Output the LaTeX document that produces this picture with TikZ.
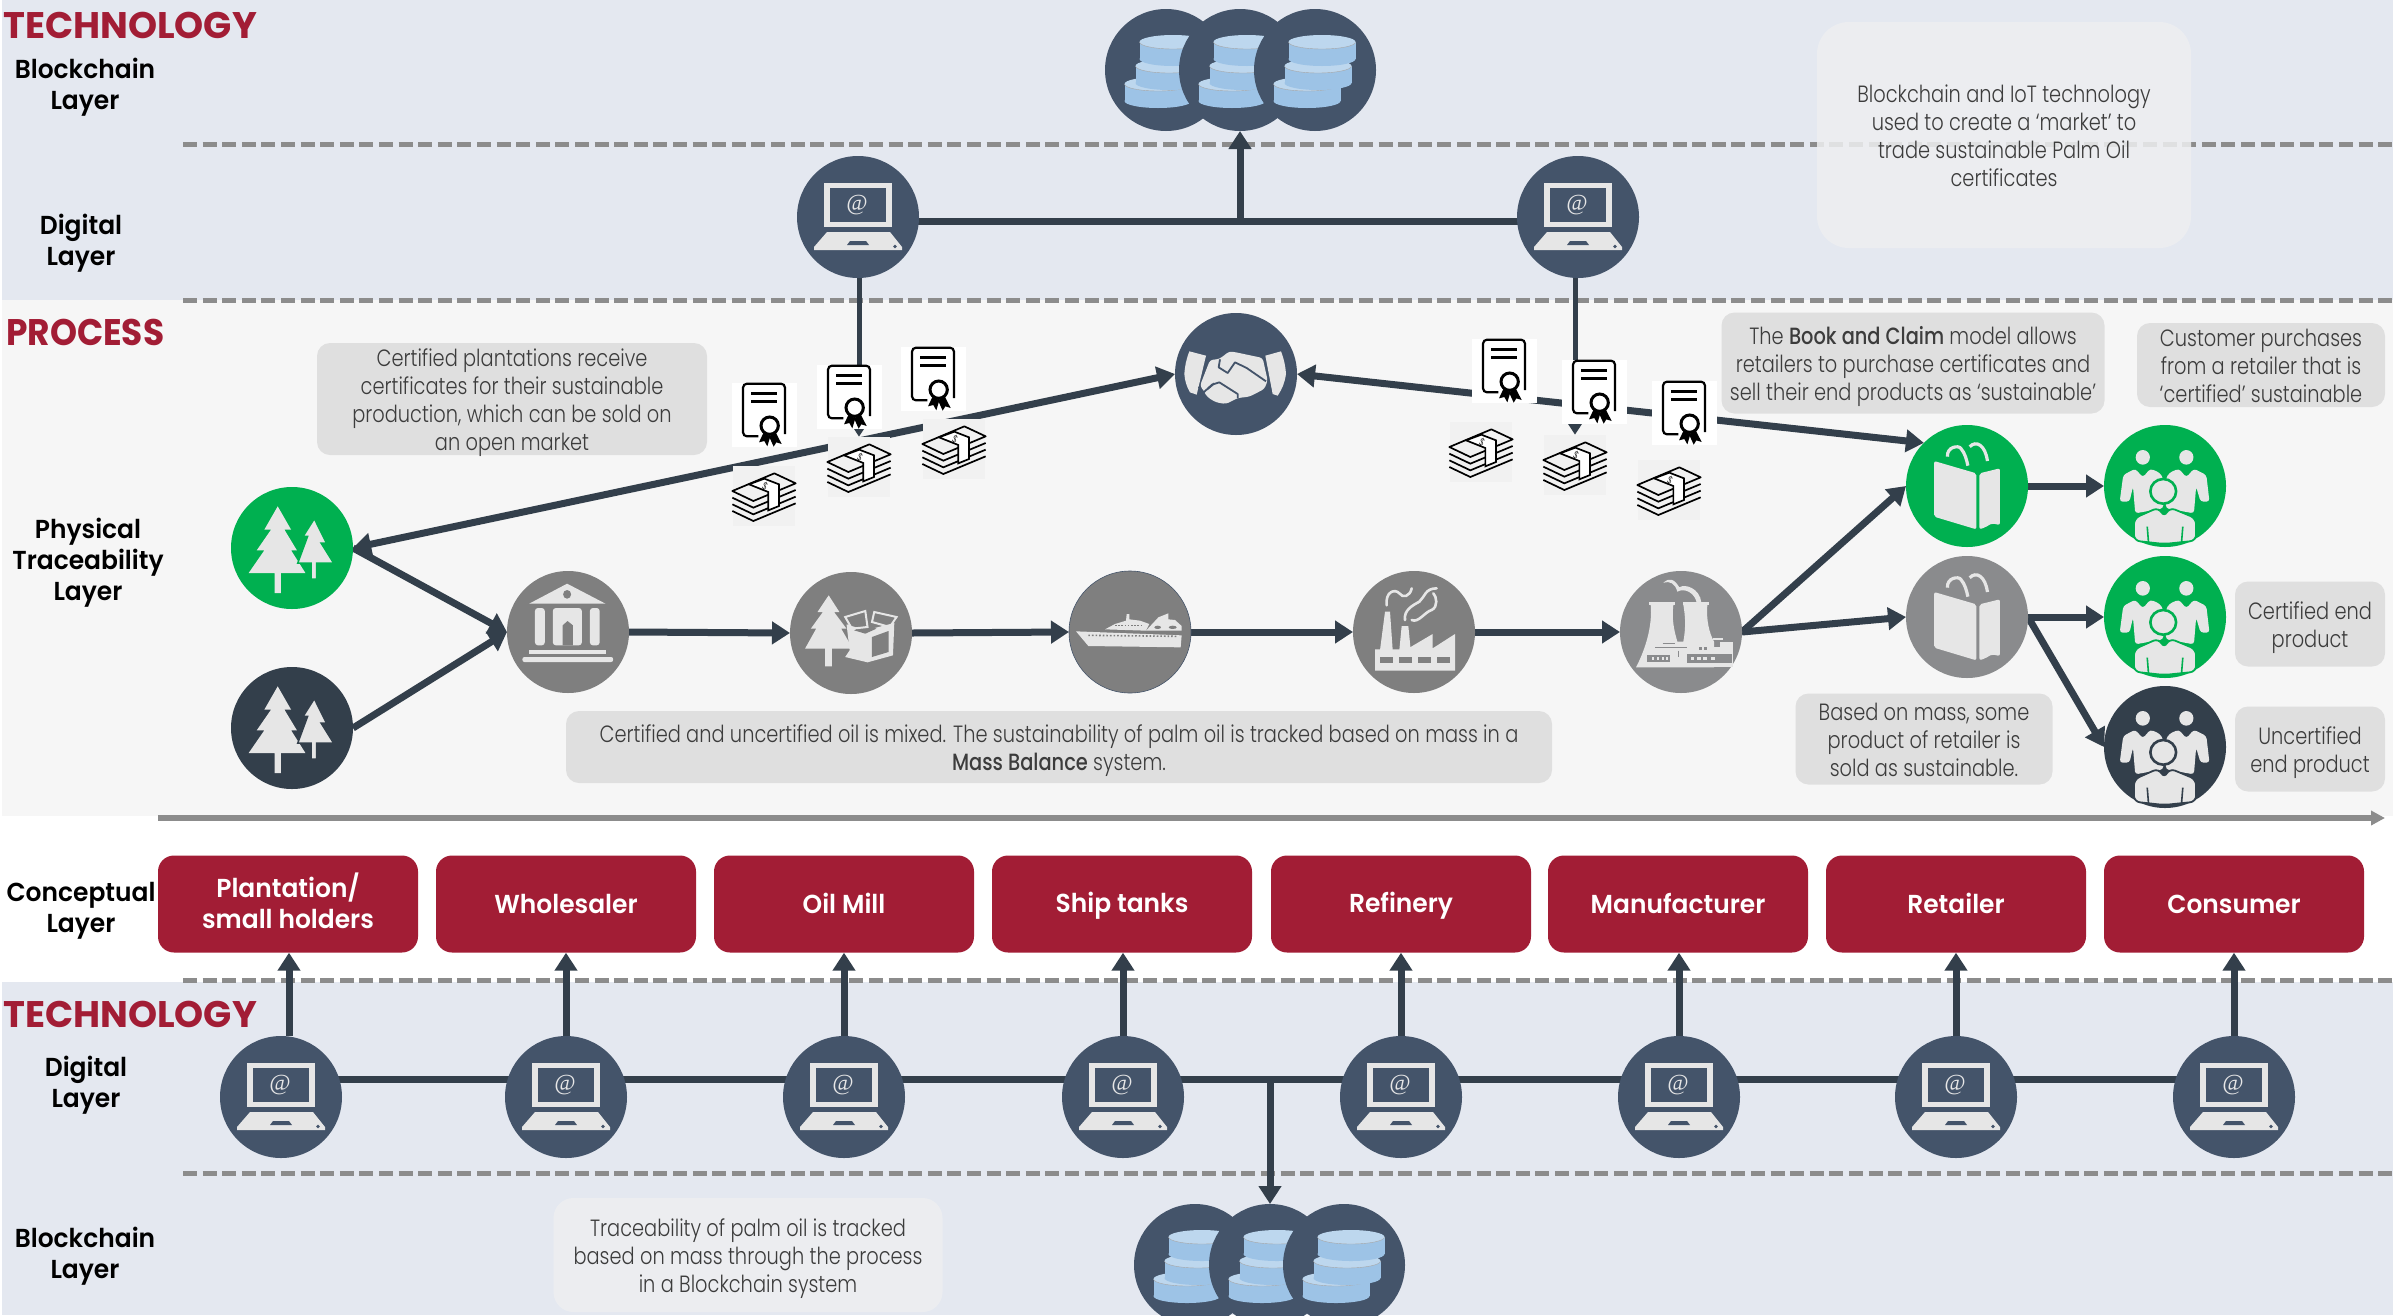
\documentclass[tikz,border=0pt]{standalone}
\usepackage{fontspec}
\usetikzlibrary{arrows.meta,calc}
\setmainfont{Poppins}[FakeStretch=0.825,UprightFont=* Light,BoldFont=* Medium]
\newfontfamily\hdfont{Poppins}[FakeStretch=0.96,UprightFont=* SemiBold]
\newfontfamily\ttlfont{Poppins}[FakeStretch=1.0,UprightFont=* Bold]
\newfontfamily\prcfont{Poppins}[FakeStretch=0.93,UprightFont=* Bold]
\definecolor{navy}{HTML}{44546A}
\definecolor{darkc}{HTML}{333F4B}
\definecolor{greenc}{HTML}{00B050}
\definecolor{greyc}{HTML}{7F7F7F}
\definecolor{greyb}{HTML}{8A8B8D}
\definecolor{redc}{HTML}{A21D35}
\definecolor{ic}{HTML}{E6E6E6}
\definecolor{bandb}{HTML}{E4E8F0}
\definecolor{bandg}{HTML}{F6F6F6}
\definecolor{dashc}{HTML}{8C8C8C}
\definecolor{notec}{HTML}{DFDFDF}
\definecolor{palec}{HTML}{EEEFF1}
\definecolor{notet}{HTML}{3C3C3C}
\definecolor{dbside}{HTML}{9DC3E6}
\definecolor{dbtop}{HTML}{BDD7EE}
\pgfdeclarelayer{bands}\pgfdeclarelayer{lines}
\pgfsetlayers{bands,lines,main}
\tikzset{
  circ/.style={circle,minimum size=122pt,inner sep=0pt,outer sep=0pt,draw=none},
  conn/.style={line width=7pt,draw=darkc,>={Triangle[length=18pt,width=22pt]}},
  sep/.style={line width=5pt,draw=dashc,dash pattern=on 14pt off 5.6pt},
  note/.style={rounded corners=13pt,fill=notec,inner sep=0pt},
  pale/.style={note,fill=palec,fill opacity=.85,rounded corners=#1},
  notetext/.style={text=notet,align=center,inner sep=0pt,font=\fontsize{23.5}{28}\selectfont},
  redbox/.style={rounded corners=16pt,fill=redc,text=white,align=center,minimum width=260pt,minimum height=97pt,inner sep=0pt,font=\hdfont\fontsize{26}{31}\selectfont},
  layerlab/.style={align=center,text=black,inner sep=0pt,font=\hdfont\fontsize{26}{31}\selectfont},
  head/.style={text=redc,inner sep=0pt,anchor=west,font=\ttlfont\fontsize{37}{40}\selectfont},
  certb/.style={fill=white,minimum width=65pt,minimum height=64pt,inner sep=0pt},
  moneyb/.style={fill=black!2!bandg,minimum width=62pt,minimum height=60pt,inner sep=0pt},
}
\newcommand\rs{\rule[-6pt]{0pt}{30pt}}
\newcommand\notebox[7][3.5]{%
  \node[#2,minimum width=#5pt,minimum height=#6pt] (#3) at (#4) {};
  \node[notetext] (#3t) at ([yshift=-#1pt]#3.center) {#7};}
\newcommand\laptopicon[1]{\begin{scope}[shift={(#1)}]
  \fill[ic] (-34,-34) rectangle (34,10);
  \fill[navy] (-28,-29) rectangle (28,5);
  \node[text=ic,inner sep=0pt,font=\fontspec{Liberation Serif}\fontsize{23}{23}\selectfont\itshape] (#1at) at (-1,-12) {@};
  \fill[ic] (-31,15) -- (32,15) -- (44,30) -- (44,33) -- (-44,33) -- (-44,30) -- cycle;
  \fill[navy] (-8,24) -- (8,24) -- (11,28) -- (-11,28) -- cycle;
  \fill[navy] (37,29.5) circle (1.8pt);
\end{scope}}
\newcommand\dbdisc[2]{%
  \fill[dbside] (#1,#2+17) ellipse [x radius=33.5,y radius=7];
  \fill[dbside] (#1-33.5,#2) rectangle (#1+33.5,#2+17);
  \fill[dbtop] (#1,#2) ellipse [x radius=33.5,y radius=7];
  \draw[black!35,line width=.4pt] (#1-33.5,#2) arc [start angle=180,end angle=360,x radius=33.5,y radius=-7];}
\newcommand\dbicon[1]{\begin{scope}[shift={(#1)}]
  \dbdisc{-8}{14}\dbdisc{3}{-4}\dbdisc{7}{-28}
\end{scope}}
\newcommand\treeicon[2]{\begin{scope}[shift={(#1)},xscale=0.4464,yscale=0.3333,shift={(-207,-205)}]
  \fill[ic] (175,80)--(145,150)--(160,150)--(128,212)--(145,212)--(110,280)--(168,280)--(168,340)--(182,340)--(182,280)--(237,280)--(205,212)--(218,212)--(190,150)--(205,150)--cycle;
  \draw[#2,line width=1.5pt,fill=ic] (257,117)--(232,170)--(242,170)--(220,250)--(250,250)--(250,298)--(262,298)--(262,250)--(300,250)--(272,190)--(284,190)--cycle;
\end{scope}}
\newcommand\bankicon[1]{\begin{scope}[shift={(#1)},xscale=0.4464,yscale=0.3333,shift={(-824,-455)}]
  \fill[ic] (737,370)--(822,310)--(908,370)--cycle;
  \fill[greyc] (822,342) ellipse [x radius=9,y radius=13];
  \fill[ic,rounded corners=3pt] (750,383) rectangle (772,495);
  \fill[ic,rounded corners=3pt] (790,383) rectangle (855,495);
  \fill[greyc] (812,495)--(812,435)--(823,422)--(835,435)--(835,495)--cycle;
  \fill[ic,rounded corners=3pt] (873,383) rectangle (895,495);
  \fill[ic] (737,508) rectangle (910,522);
  \fill[ic,rounded corners=2pt] (722,530) rectangle (925,545);
\end{scope}}
\newcommand\boxicon[1]{\begin{scope}[shift={(#1)},xscale=0.4464,yscale=0.3333,shift={(-1458,-458)}]
  \fill[ic] (1408,345)--(1383,395)--(1395,395)--(1368,445)--(1380,445)--(1355,505)--(1400,505)--(1400,558)--(1415,558)--(1415,505)--(1462,505)--(1436,445)--(1448,445)--(1420,395)--(1432,395)--cycle;
  \fill[ic] (1448,432)--(1490,450)--(1555,428)--(1552,525)--(1495,546)--(1445,530)--(1455,510)--cycle;
  \fill[greyc] (1505,470)--(1542,452)--(1542,515)--(1505,530)--cycle;
  \fill[greyc] (1465,450)--(1490,460)--(1515,445)--(1490,432)--cycle;
  \draw[ic,line width=2pt] (1445,410)--(1490,392)--(1495,440)--(1460,445)--cycle;
  \draw[ic,line width=2pt] (1510,395)--(1560,410)--(1545,440)--(1505,425)--cycle;
\end{scope}}
\newcommand\handicon[1]{\begin{scope}[shift={(#1)},scale=0.3333,shift={(-200,-190)}]
  \fill[ic] (60,122)--(110,135)--(82,252)--(62,245) to[bend left=12] (45,190) to[bend left=8] cycle;
  \fill[ic] (288,135)--(335,122) to[bend left=8] (350,190) to[bend left=12] (325,255)--(310,250)--cycle;
  \fill[ic,rounded corners=3pt] (122,148)--(150,145)--(180,122)--(200,125)--(280,142)--(295,210)--(285,235)--(240,258)--(205,262)--(170,280)--(140,275)--(115,260)--(92,225)--cycle;
  \draw[navy,line width=1.8pt,line join=round] (152,146)--(148,170)--(175,187)--(197,155)--(232,172)--(290,212);
  \draw[navy,line width=1.8pt,line join=round] (88,228)--(103,245)--(128,222)--(150,215)--(205,250)--(205,263);
  \draw[navy,line width=1.8pt] (115,235)--(135,218);
\end{scope}}
\newcommand\powericon[1]{\begin{scope}[shift={(#1)},scale=0.3333,shift={(-183,-216)}]
  \fill[ic] (88,127) rectangle (165,134);
  \fill[ic] (190,127) rectangle (268,134);
  \fill[ic] (92,134)--(160,134) .. controls (155,180) and (162,210) .. (172,245)--(190,245) .. controls (198,200) and (196,170) .. (190,134)--(262,134) .. controls (258,180) and (268,220) .. (282,245)--(282,322)--(48,322) .. controls (75,270) and (98,200) .. cycle;
  \fill[ic] (110,262) rectangle (200,270);
  \fill[ic] (280,235) rectangle (310,240);
  \fill[ic] (300,247) rectangle (340,322);
  \fill[ic] (270,260) rectangle (335,322);
  \fill[greyb] (82,285) rectangle (150,305);
  \fill[ic] (95,290) rectangle (103,300);\fill[ic] (110,290) rectangle (118,300);\fill[ic] (125,290) rectangle (133,300);\fill[ic] (138,290) rectangle (145,300);
  \fill[greyb] (200,282) rectangle (335,310);
  \fill[ic] (212,290) rectangle (222,300);\fill[ic] (232,290) rectangle (242,300);\fill[ic] (250,290) rectangle (260,300);\fill[ic] (272,290) rectangle (284,300);
  \draw[greyb,line width=1pt] (175,272)--(175,292);
  \fill[greyb] (237,262) rectangle (245,270);\fill[greyb] (252,262) rectangle (262,270);
  \draw[greyb,line width=1.4pt] (105,262)--(200,262) (128,250)--(165,250);
  \fill[ic] (130,68) .. controls (150,50) and (165,60) .. (178,82) .. controls (195,70) and (240,85) .. (244,128)--(230,128) .. controls (225,100) and (195,82) .. (172,95) .. controls (165,70) and (150,62) .. cycle;
\end{scope}}
\newcommand\shipicon[1]{\begin{scope}[shift={(#1)},scale=0.3333,shift={(-210,-216)}]
  \fill[ic] (48,214)--(365,226)--(362,262)--(85,258)--cycle;
  \fill[ic] (135,208)--(165,192)--(198,182)--(200,162)--(208,162)--(208,178)--(240,182)--(268,192)--(258,212)--cycle;
  \fill[ic] (258,212)--(295,172)--(325,160)--(325,178)--(345,180)--(365,198)--(365,212)--cycle;
  \fill[greyc] (293,202) ellipse [x radius=10,y radius=5];
  \fill[greyc] (338,202) ellipse [x radius=12,y radius=5];
  \draw[greyc,line width=1.6pt,dash pattern=on 1.6pt off 2pt] (85,226)--(355,229);
  \draw[greyc,line width=1.2pt,dash pattern=on 1.6pt off 1.6pt] (165,197)--(245,197);
\end{scope}}
\newcommand\factoryicon[1]{\begin{scope}[shift={(#1)},scale=0.3333,shift={(-1062,-216)}]
  \fill[ic] (945,268)--(1040,268)--(1118,222)--(1118,265)--(1185,222)--(1185,332)--(945,332)--cycle;
  \fill[ic] (975,155)--(990,155)--(998,270)--(960,270)--cycle;
  \fill[ic] (1025,198)--(1045,198)--(1052,270)--(1018,270)--cycle;
  \foreach \wx in {960,1017,1073,1130}{\fill[greyc] (\wx,292) rectangle (\wx+39,308);}
  \draw[ic,line width=2.6pt,line cap=round] (980,136) .. controls (975,95) and (1005,85) .. (1018,100) .. controls (1028,115) and (1050,110) .. (1055,85);
  \draw[ic,line width=2.6pt,line cap=round] (1035,180) .. controls (1030,150) and (1060,135) .. (1078,125) .. controls (1095,110) and (1095,85) .. (1130,85);
  \draw[ic,line width=2.6pt,line cap=round] (1055,180) .. controls (1075,190) and (1095,155) .. (1115,150) .. controls (1135,140) and (1130,110) .. (1120,100);
\end{scope}}
\newcommand\shopicon[1]{\begin{scope}[shift={(#1)},xscale=0.4444,yscale=0.3333,shift={(-604,-558)}]
  \fill[ic,rounded corners=2pt] (530,483)--(625,520)--(625,688)--(530,650)--cycle;
  \fill[ic,rounded corners=2pt] (632,520)--(678,505)--(678,675)--(660,670)--(645,682)--(632,688)--cycle;
  \draw[ic,line width=3.2pt] (560,470) .. controls (558,440) and (585,435) .. (590,445) .. controls (600,460) and (603,480) .. (606,497);
  \draw[ic,line width=3.2pt] (610,440) .. controls (625,420) and (645,435) .. (650,483);
\end{scope}}
\newcommand\peopleicon[2]{\begin{scope}[shift={(#1)},xscale=0.4444,yscale=0.3333,shift={(-1052,-558)}]
  \fill[ic] (1002,472) ellipse [x radius=16,y radius=22];
  \fill[ic] (1100,472) ellipse [x radius=16,y radius=22];
  \fill[ic,rounded corners=3pt] (950,605)--(958,525)--(985,506)--(1002,532)--(1019,506)--(1040,518)--(1048,535)--(1048,625)--(985,640)--(980,560)--(972,605)--cycle;
  \fill[ic,rounded corners=3pt] (1152,605)--(1145,525)--(1117,506)--(1100,532)--(1083,506)--(1062,518)--(1054,535)--(1054,625)--(1117,640)--(1122,560)--(1132,605)--cycle;
  \draw[#2,line width=2.6pt,fill=ic] (1048,574) ellipse [x radius=29,y radius=37];
  \draw[#2,line width=1.8pt,fill=ic,rounded corners=6pt] (982,722)--(982,655)--(1038,622)--(1050,652)--(1062,622)--(1122,655)--(1122,722)--(1050,732)--cycle;
  \draw[#2,line width=1.6pt] (1012,680)--(1015,730) (1092,680)--(1089,730);
\end{scope}}
\newcommand\certicon[1]{\begin{scope}[shift={(#1)},scale=0.3333,shift={(-105,-108)}]
  \draw[black,line width=2.2pt,rounded corners=4pt] (88,172)--(42,172)--(42,14)--(168,14)--(168,165);
  \fill[black] (65,38) rectangle (145,47);\fill[black] (65,63) rectangle (145,72);
  \fill[black] (104,160)--(90,190)--(106,186)--(115,202)--(124,172)--cycle;
  \fill[black] (140,160)--(158,195)--(142,190)--(134,203)--(120,172)--cycle;
  \draw[black,line width=3pt,fill=white] (122,140) circle [radius=26];
\end{scope}}
\newcommand\moneyicon[1]{\begin{scope}[shift={(#1)},scale=0.3333,shift={(-317,-390)}]
  \draw[black,line width=1.7pt,line join=round] (222,375)--(348,322)--(412,352)--(285,405)--cycle;
  \foreach \k in {20,40,60}{\draw[black,line width=1.7pt] (222,375+\k)--(285,405+\k)--(412,352+\k);}
  \draw[black,line width=1.7pt,fill=white] (272,355)--(318,338)--(362,355)--(362,420)--(330,433)--(330,378)--cycle;
  \node[black,inner sep=0pt,font=\fontsize{10}{10}\selectfont,rotate=-25] (#1sign) at (320,362) {\$};
\end{scope}}
\begin{document}
\begin{tikzpicture}[x=1pt,y=-1pt]
\path[use as bounding box] (0,0) rectangle (2393,1315);
\clip (0,0) rectangle (2393,1315);
\begin{pgfonlayer}{bands}
  \fill[white] (0,0) rectangle (2393,1315);
  \fill[bandb] (2,0) rectangle (2393,300);
  \fill[bandg] (2,300) rectangle (2393,816);
  \fill[bandb] (2,982) rectangle (2393,1315);
  \foreach \yy in {144,300,980,1173}{\draw[sep] (183,\yy)--(2393,\yy);}
\end{pgfonlayer}
\node[moneyb] (m1) at (764,496) {};
\node[moneyb] (m2) at (859,467) {};
\node[moneyb] (m3) at (954,449) {};
\node[moneyb] (m4) at (1481,452) {};
\node[moneyb] (m5) at (1575,465) {};
\node[moneyb] (m6) at (1669,490) {};
\node[circ,fill=navy] (bt1) at (1166,70) {}; \dbicon{bt1}
\node[circ,fill=navy] (bt2) at (1240,70) {}; \dbicon{bt2}
\node[circ,fill=navy] (bt3) at (1315,70) {}; \dbicon{bt3}
\node[circ,fill=navy] (d1) at (858,217) {}; \laptopicon{d1}
\node[circ,fill=navy] (d2) at (1578,217) {}; \laptopicon{d2}
\node[circ,fill=navy] (hs) at (1236,374) {}; \handicon{hs}
\node[circ,fill=greenc] (tg) at (292,548) {}; \treeicon{tg}{greenc}
\node[circ,fill=darkc] (td) at (292,728) {}; \treeicon{td}{darkc}
\node[circ,fill=greyc] (bank) at (568,632) {}; \bankicon{bank}
\node[circ,fill=greyc] (pack) at (851,633) {}; \boxicon{pack}
\node[circ,fill=greyc,draw=navy,line width=.6pt] (ship) at (1130,632) {}; \shipicon{ship}
\node[circ,fill=greyc] (fact) at (1414,632) {}; \factoryicon{fact}
\node[circ,fill=greyb] (pow) at (1681,632) {}; \powericon{pow}
\node[circ,fill=greenc] (rg) at (1967,486) {}; \shopicon{rg}
\node[circ,fill=greyb] (rn) at (1967,617) {}; \shopicon{rn}
\node[circ,fill=greenc] (p1) at (2165,486) {}; \peopleicon{p1}{greenc}
\node[circ,fill=greenc] (p2) at (2165,617) {}; \peopleicon{p2}{greenc}
\node[circ,fill=darkc] (p3) at (2165,747) {}; \peopleicon{p3}{darkc}
\node[redbox] (b1) at (288,904) {\rs Plantation/\\\rs small holders};
\node[redbox] (b2) at (566,904) {\rs Wholesaler};
\node[redbox] (b3) at (844,904) {\rs Oil Mill};
\node[redbox] (b4) at (1122,904) {\rs Ship tanks};
\node[redbox] (b5) at (1401,904) {\rs Refinery};
\node[redbox] (b6) at (1678,904) {\rs Manufacturer};
\node[redbox] (b7) at (1956,904) {\rs Retailer};
\node[redbox] (b8) at (2234,904) {\rs Consumer};
\node[circ,fill=navy] (l1) at (281,1097) {}; \laptopicon{l1}
\node[circ,fill=navy] (l2) at (566,1097) {}; \laptopicon{l2}
\node[circ,fill=navy] (l3) at (844,1097) {}; \laptopicon{l3}
\node[circ,fill=navy] (l4) at (1123,1097) {}; \laptopicon{l4}
\node[circ,fill=navy] (l5) at (1401,1097) {}; \laptopicon{l5}
\node[circ,fill=navy] (l6) at (1679,1097) {}; \laptopicon{l6}
\node[circ,fill=navy] (l7) at (1956,1097) {}; \laptopicon{l7}
\node[circ,fill=navy] (l8) at (2234,1097) {}; \laptopicon{l8}
\node[circ,fill=navy] (bb1) at (1195,1265) {}; \dbicon{bb1}
\node[circ,fill=navy] (bb2) at (1270,1265) {}; \dbicon{bb2}
\node[circ,fill=navy] (bb3) at (1344,1265) {}; \dbicon{bb3}
\coordinate (hubt) at (1240,221);
\coordinate (hubb) at (1270,1079);
\begin{pgfonlayer}{lines}
  \draw[conn] ([yshift=-4pt]d1.center) -- ([yshift=-4pt]d2.center);
  \draw[conn,->] (hubt) -- (bt2.south);
  \draw[conn,line width=5pt,->] (d1.south -| m2.north) -- (m2.north);
  \draw[conn,line width=5pt,->] (m5.north |- d2.south) -- (m5.north);
  \draw[conn,<->] (tg.east) -- (hs.west);
  \draw[conn,<->] (hs.east) -- (rg.north west);
  \draw[conn,->] (tg.east) -- (bank.west);
  \draw[conn,->] (td.east) -- (bank.west);
  \draw[conn,->] (bank.east) -- (pack.west);
  \draw[conn,->] (pack.east) -- (ship.west);
  \draw[conn,->] (ship.east) -- (fact.west);
  \draw[conn,->] (fact.east) -- (pow.west);
  \draw[conn,->] (pow.east) -- (rg.west);
  \draw[conn,->] (pow.east) -- (rn.west);
  \draw[conn,->] (rg.east) -- (p1.west);
  \draw[conn,->] (rn.east) -- (p2.west);
  \draw[conn,->] (rn.east) -- (p3.west);
  \draw[line width=5.5pt,draw=dashc,-{Triangle[length=14pt,width=14pt]}] (158,818) -- (2385,818);
  \draw[conn] ([yshift=18pt]l1.center) -- ([yshift=18pt]l8.center);
  \draw[conn,->] (hubb) -- (bb2.north);
  \draw[conn,->] ([xshift=8pt]l1.north) -- ([xshift=8pt]l1.north |- b1.south);
  \foreach \i in {2,...,8}{\draw[conn,->] (l\i.north) -- (l\i.north |- b\i.south);}
\end{pgfonlayer}
\foreach \n/\cx/\cy in {c1/764/415,c2/849/397,c3/933/379,c4/1504/371,c5/1594/392,c6/1684/413}{
  \node[certb] (\n) at (\cx,\cy) {}; \certicon{\n}}
\moneyicon{m1}\moneyicon{m2}\moneyicon{m3}\moneyicon{m4}\moneyicon{m5}\moneyicon{m6}
\notebox[1]{pale=32pt}{n1}{2004,135}{374}{226}{Blockchain and IoT technology\\used to create a ‘market’ to\\trade sustainable Palm Oil\\certificates}
\notebox{note}{n2}{512,399}{390}{112}{Certified plantations receive\\certificates for their sustainable\\production, which can be sold on\\an open market}
\notebox{note}{n3}{1913,363}{383}{101}{The \textbf{Book and Claim} model allows\\retailers to purchase certificates and\\sell their end products as ‘sustainable’}
\notebox[1]{note}{n4}{2261,365}{248}{84}{Customer purchases\\from a retailer that is\\‘certified’ sustainable}
\notebox{note}{n5}{2310,624}{150}{85}{Certified end\\product}
\notebox{note}{n6}{2310,749}{150}{85}{Uncertified\\end product}
\notebox[1]{note}{n7}{1924,739}{257}{91}{Based on mass, some\\product of retailer is\\sold as sustainable.}
\notebox{note}{n8}{1059,747}{986}{72}{Certified and uncertified oil is mixed. The sustainability of palm oil is tracked based on mass in a\\\textbf{Mass Balance} system.}
\notebox{pale=20pt}{n9}{748,1255}{389}{114}{Traceability of palm oil is tracked\\based on mass through the process\\in a Blockchain system}
\node[head] (h1) at (3,25) {TECHNOLOGY};
\node[head,font=\prcfont\fontsize{37}{40}\selectfont] (h2) at (6,332) {PROCESS};
\node[head] (h3) at (3,1014) {TECHNOLOGY};
\node[layerlab] (la1) at (85,87) {Blockchain\\Layer};
\node[layerlab] (la2) at (81,243) {Digital\\Layer};
\node[layerlab] (la3) at (88,563) {Physical\\Traceability\\Layer};
\node[layerlab] (la4) at (81,911) {Conceptual\\Layer};
\node[layerlab] (la5) at (86,1085) {Digital\\Layer};
\node[layerlab] (la6) at (85,1256) {Blockchain\\Layer};
\end{tikzpicture}
\end{document}
